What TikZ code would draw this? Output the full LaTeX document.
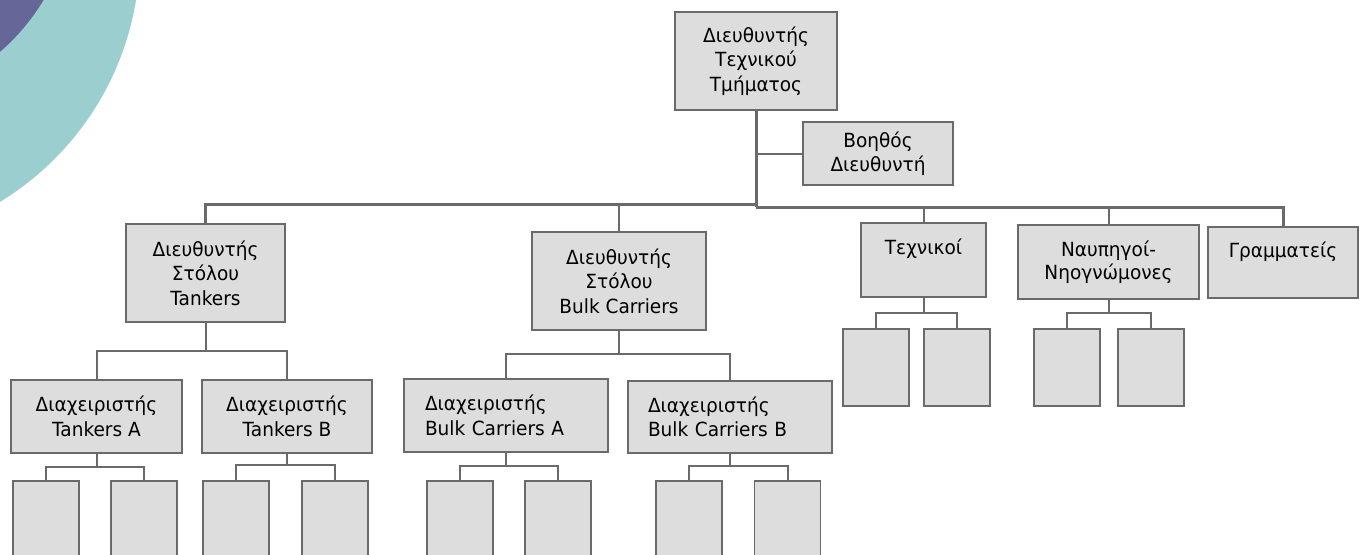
\documentclass[tikz,border=0pt]{standalone}
\usepackage{fontspec}
\setmainfont[FakeStretch=0.95]{DejaVu Sans}
\definecolor{teal1}{HTML}{9BCFCF}
\definecolor{purp1}{HTML}{666699}
\definecolor{boxfill}{HTML}{DDDDDD}
\definecolor{boxline}{HTML}{6A6A6A}
\begin{document}
\begin{tikzpicture}[x=1pt,y=1pt,
  box/.style={draw=boxline, line width=1.8pt, fill=boxfill, inner sep=0pt, align=center,
    font=\fontsize{19.5}{24.5}\selectfont},
  leftbox/.style={box, align=left},
  kid/.style={draw=boxline, line width=1.8pt, fill=boxfill, minimum width=66pt, minimum height=77pt, inner sep=0pt},
  conn/.style={draw=boxline, line width=2pt},
  trunk/.style={draw=boxline, line width=3pt}]
\clip (0,0) rectangle (1359,-554);
\fill[white] (0,0) rectangle (1359,-554);
% decoration
\fill[teal1] (-151.7,47.1) circle (291.5);
\fill[purp1] (-140,110) circle (214);
% bus coordinates
\coordinate (busL) at (756,-204);
\coordinate (busR) at (756,-207);
\coordinate (asstY) at (0,-154);
\coordinate (tkY) at (0,-351);
\coordinate (bcY) at (0,-354);
\coordinate (tkaY) at (0,-466.7);
\coordinate (tkbY) at (0,-465);
\coordinate (bcaY) at (0,-466);
\coordinate (bcbY) at (0,-466);
\coordinate (techY) at (0,-313);
\coordinate (navY) at (0,-313);
% nodes
\node[box, minimum width=162pt, minimum height=98pt] (top) at (756,-61) {Διευθυντής\\Τεχνικού\\Τμήματος};
\node[box, minimum width=150pt, minimum height=63pt] (asst) at (878,-153.5) {Βοηθός\\Διευθυντή};
\node[box, minimum width=159pt, minimum height=98pt] (tk) at (205.5,-273) {Διευθυντής\\Στόλου\\Tankers};
\node[box, minimum width=174pt, minimum height=98pt] (bc) at (619,-281) {Διευθυντής\\Στόλου\\Bulk Carriers};
\node[box, minimum width=125pt, minimum height=74pt] (tech) at (923.5,-260) {Τεχνικοί\\[-6pt]\strut};
\node[box, minimum width=181pt, minimum height=74pt] (nav) at (1108.5,-262) {Ναυπηγοί-\\[-2pt]Νηογνώμονες};
\node[box, minimum width=150pt, minimum height=71pt] (gram) at (1283,-262.5) {Γραμματείς\\[-6pt]\strut};
\node[box, minimum width=171pt, minimum height=73pt] (tka) at (96.5,-416.5) {Διαχειριστής\\Tankers A};
\node[box, minimum width=170pt, minimum height=73pt] (tkb) at (287,-416.5) {Διαχειριστής\\Tankers B};
\node[leftbox, text width=162pt, inner xsep=21pt, minimum height=73pt] (bca) at (506,-415.5) {Διαχειριστής\\Bulk Carriers A};
\node[leftbox, text width=164pt, inner xsep=20pt, minimum height=72pt] (bcb) at (730,-417) {Διαχειριστής\\Bulk Carriers B};
% leaf boxes
\node[kid] (tka1) at (46,-519.5) {};
\node[kid] (tka2) at (144,-519.5) {};
\node[kid] (tkb1) at (236,-519.5) {};
\node[kid] (tkb2) at (334.7,-519.5) {};
\node[kid] (bca1) at (460,-519.5) {};
\node[kid] (bca2) at (558,-519.5) {};
\node[kid] (bcb1) at (689,-519.5) {};
\node[kid] (bcb2) at (787.5,-519.5) {};
\node[kid] (tech1) at (876,-367.5) {};
\node[kid] (tech2) at (957,-367.5) {};
\node[kid] (nav1) at (1066.7,-367.5) {};
\node[kid] (nav2) at (1151,-367.5) {};
% connectors
\draw[trunk] (top.south) -- (busR);
\draw[conn] (top.south |- asstY) -- (asst.west |- asstY);
\draw[trunk] (busL) -- (tk.north |- busL) -- (tk.north);
\draw[conn] (bc.north |- busL) -- (bc.north);
\draw[trunk] (busR) -- (gram.north |- busR) -- (gram.north);
\draw[conn] (tech.north |- busR) -- (tech.north);
\draw[conn] (nav.north |- busR) -- (nav.north);
% second level
\draw[conn] (tk.south) -- (tk.south |- tkY);
\draw[conn] (tka.north) -- (tka.north |- tkY) -- (tkb.north |- tkY) -- (tkb.north);
\draw[conn] (bc.south) -- (bc.south |- bcY);
\draw[conn] (bca.north) -- (bca.north |- bcY) -- (bcb.north |- bcY) -- (bcb.north);
% third level
\draw[conn] (tka.south) -- (tka.south |- tkaY);
\draw[conn] (tka1.north) -- (tka1.north |- tkaY) -- (tka2.north |- tkaY) -- (tka2.north);
\draw[conn] (tkb.south) -- (tkb.south |- tkbY);
\draw[conn] (tkb1.north) -- (tkb1.north |- tkbY) -- (tkb2.north |- tkbY) -- (tkb2.north);
\draw[conn] (bca.south) -- (bca.south |- bcaY);
\draw[conn] (bca1.north) -- (bca1.north |- bcaY) -- (bca2.north |- bcaY) -- (bca2.north);
\draw[conn] (bcb.south) -- (bcb.south |- bcbY);
\draw[conn] (bcb1.north) -- (bcb1.north |- bcbY) -- (bcb2.north |- bcbY) -- (bcb2.north);
\draw[conn] (tech.south) -- (tech.south |- techY);
\draw[conn] (tech1.north) -- (tech1.north |- techY) -- (tech2.north |- techY) -- (tech2.north);
\draw[conn] (nav.south) -- (nav.south |- navY);
\draw[conn] (nav1.north) -- (nav1.north |- navY) -- (nav2.north |- navY) -- (nav2.north);
\end{tikzpicture}
\end{document}
